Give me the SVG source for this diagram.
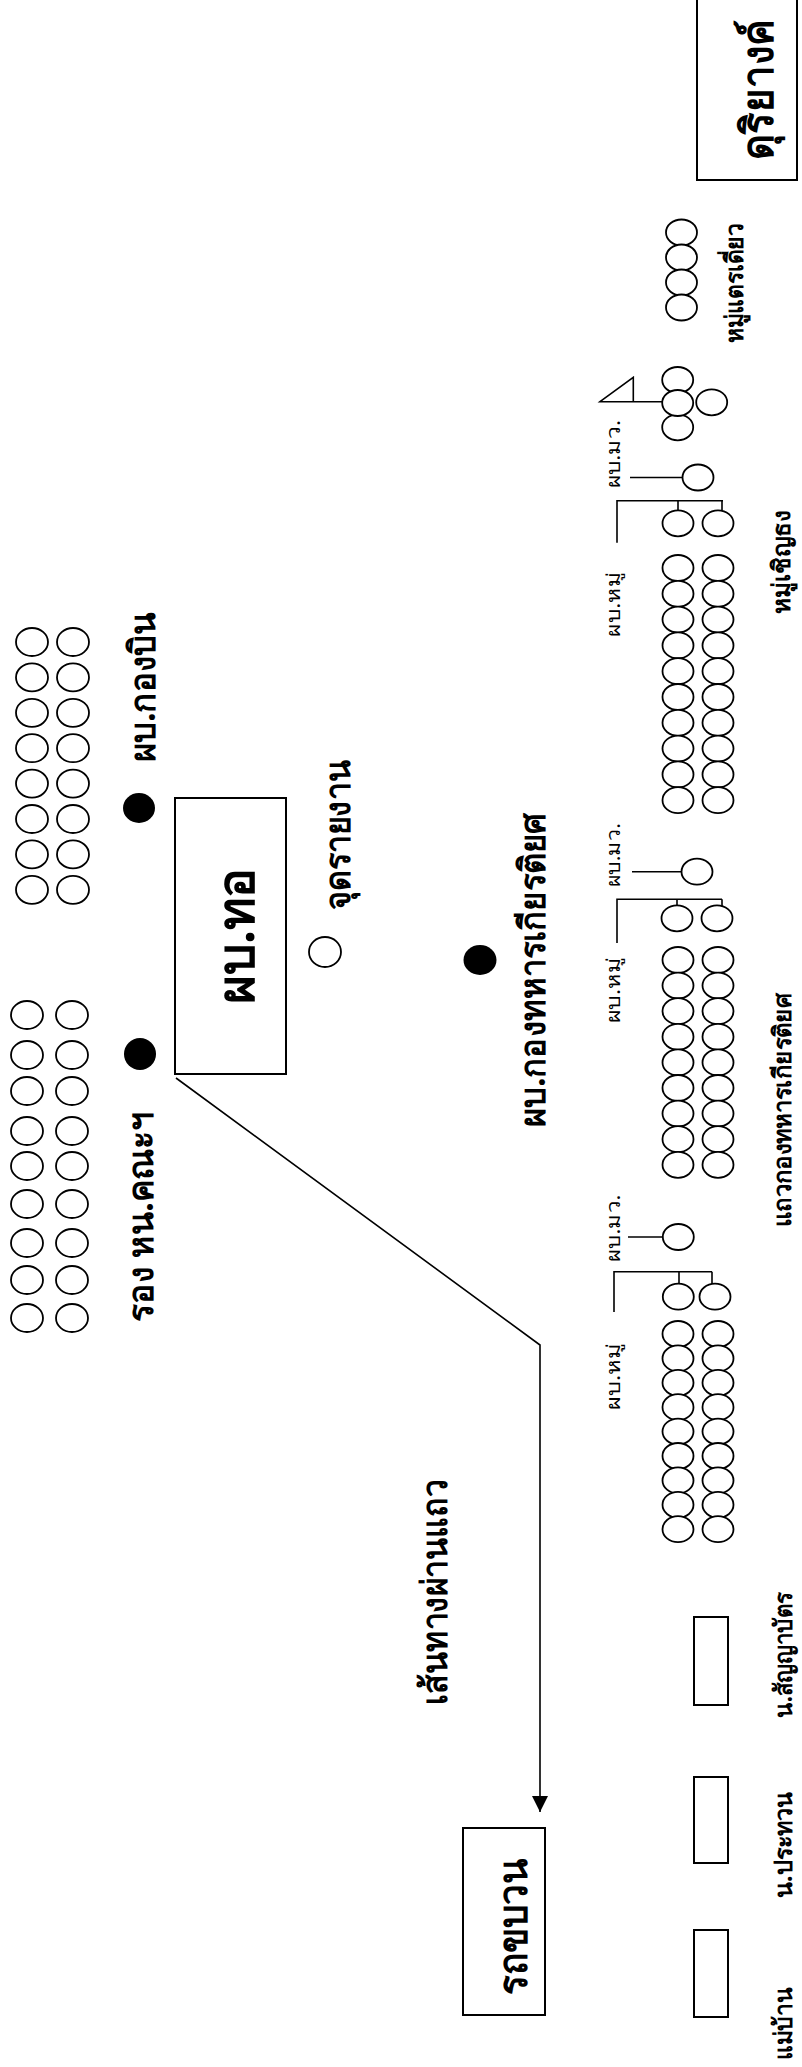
<svg xmlns="http://www.w3.org/2000/svg" xmlns:xlink="http://www.w3.org/1999/xlink" width="802" height="2067" viewBox="0 0 802 2067">
<style>
.o{fill:#fff;stroke:#000;stroke-width:1.8}
.f{fill:#000;stroke:none}
.ln{stroke:#000;stroke-width:1.6;fill:none}
.bx{fill:#fff;stroke:#000;stroke-width:2}
.t{font-family:"Noto Sans","DejaVu Sans",sans-serif;font-weight:bold;text-anchor:middle;fill:#000}
.s{font-weight:normal;font-size:19px}
</style>
<defs>
<ellipse id="c" cx="0" cy="0" rx="15.5" ry="13"/>
<ellipse id="L" cx="0" cy="0" rx="16" ry="14"/>
<marker id="ah" viewBox="0 0 16 16" refX="16" refY="8" markerWidth="16" markerHeight="16" markerUnits="userSpaceOnUse" orient="auto"><path d="M0,0 L16,8 L0,16 Z" fill="#000"/></marker>
</defs>
<rect width="802" height="2067" fill="#fff"/>

<g id="duriyang">
<rect class="bx" x="697" y="-2" width="100" height="182"/>
<text class="t" font-size="44" textLength="140" lengthAdjust="spacingAndGlyphs" transform="translate(773,90) rotate(-90)">ดุริยางค์</text>
</g>

<g id="trae">
<use href="#c" class="o" x="681.5" y="232.5"/>
<use href="#c" class="o" x="681.5" y="257.5"/>
<use href="#c" class="o" x="681.5" y="282.5"/>
<use href="#c" class="o" x="681.5" y="307.5"/>
<text class="t" font-size="25" textLength="120" lengthAdjust="spacingAndGlyphs" transform="translate(743,283) rotate(-90)">หมู่แตรเดี่ยว</text>
</g>

<g id="flag">
<path class="ln" d="M600,401.7 L633.3,377.3 L633.3,401.7 Z M633.3,401.7 L663,401.7"/>
<use href="#c" class="o" x="677.7" y="380"/>
<use href="#c" class="o" x="677.7" y="427.3"/>
<use href="#c" class="o" x="677.7" y="403"/>
<use href="#c" class="o" x="711.7" y="402.3"/>
<text class="t" font-size="25" textLength="103" lengthAdjust="spacingAndGlyphs" transform="translate(790,562) rotate(-90)">หมู่เชิญธง</text>
</g>

<g id="platoon1">
<text class="t s" textLength="68" lengthAdjust="spacingAndGlyphs" transform="translate(620,454) rotate(-90)">ผบ.มว.</text>
<path class="ln" d="M630,477.5 L683,477.5"/>
<use href="#c" class="o" x="698" y="477.5"/>
<path class="ln" d="M617,542.7 L617,500.7 L723,500.7 M678,500.7 L678,510.5 M722,500.7 L722,510.5"/>
<use href="#c" class="o" x="678" y="523.3"/>
<use href="#c" class="o" x="718" y="523.3"/>
<text class="t s" textLength="65" lengthAdjust="spacingAndGlyphs" transform="translate(620,604) rotate(-90)">ผบ.หมู่</text>
<use href="#c" class="o" x="678" y="568"/><use href="#c" class="o" x="718" y="568"/>
<use href="#c" class="o" x="678" y="593.8"/><use href="#c" class="o" x="718" y="593.8"/>
<use href="#c" class="o" x="678" y="619.6"/><use href="#c" class="o" x="718" y="619.6"/>
<use href="#c" class="o" x="678" y="645.4"/><use href="#c" class="o" x="718" y="645.4"/>
<use href="#c" class="o" x="678" y="671.2"/><use href="#c" class="o" x="718" y="671.2"/>
<use href="#c" class="o" x="678" y="697"/><use href="#c" class="o" x="718" y="697"/>
<use href="#c" class="o" x="678" y="722.8"/><use href="#c" class="o" x="718" y="722.8"/>
<use href="#c" class="o" x="678" y="748.6"/><use href="#c" class="o" x="718" y="748.6"/>
<use href="#c" class="o" x="678" y="774.4"/><use href="#c" class="o" x="718" y="774.4"/>
<use href="#c" class="o" x="678" y="800.2"/><use href="#c" class="o" x="718" y="800.2"/>
</g>

<g id="platoon2">
<text class="t s" textLength="64" lengthAdjust="spacingAndGlyphs" transform="translate(620,855) rotate(-90)">ผบ.มว.</text>
<path class="ln" d="M632,871.7 L682,871.7"/>
<use href="#c" class="o" x="697" y="871.7"/>
<path class="ln" d="M617,943 L617,899.3 L722,899.3 M677,899.3 L677,906 M722,899.3 L722,906"/>
<use href="#c" class="o" x="677" y="918.3"/>
<use href="#c" class="o" x="717" y="918.3"/>
<text class="t s" textLength="66" lengthAdjust="spacingAndGlyphs" transform="translate(620,990) rotate(-90)">ผบ.หมู่</text>
<use href="#c" class="o" x="678" y="960"/><use href="#c" class="o" x="718" y="960"/>
<use href="#c" class="o" x="678" y="985.6"/><use href="#c" class="o" x="718" y="985.6"/>
<use href="#c" class="o" x="678" y="1011.2"/><use href="#c" class="o" x="718" y="1011.2"/>
<use href="#c" class="o" x="678" y="1036.8"/><use href="#c" class="o" x="718" y="1036.8"/>
<use href="#c" class="o" x="678" y="1062.4"/><use href="#c" class="o" x="718" y="1062.4"/>
<use href="#c" class="o" x="678" y="1088"/><use href="#c" class="o" x="718" y="1088"/>
<use href="#c" class="o" x="678" y="1113.6"/><use href="#c" class="o" x="718" y="1113.6"/>
<use href="#c" class="o" x="678" y="1139.2"/><use href="#c" class="o" x="718" y="1139.2"/>
<use href="#c" class="o" x="678" y="1164.8"/><use href="#c" class="o" x="718" y="1164.8"/>
<text class="t" font-size="25" textLength="234" lengthAdjust="spacingAndGlyphs" transform="translate(791,1110) rotate(-90)">แถวกองทหารเกียรติยศ</text>
</g>

<g id="platoon3">
<text class="t s" textLength="67" lengthAdjust="spacingAndGlyphs" transform="translate(620,1228) rotate(-90)">ผบ.มว.</text>
<path class="ln" d="M628,1237 L663,1237"/>
<use href="#c" class="o" x="678.3" y="1237"/>
<path class="ln" d="M614,1312 L614,1271.7 L712,1271.7 M679,1271.7 L679,1284 M712,1271.7 L712,1284"/>
<use href="#c" class="o" x="678.3" y="1296.7"/>
<use href="#c" class="o" x="715" y="1296.7"/>
<text class="t s" textLength="67" lengthAdjust="spacingAndGlyphs" transform="translate(620,1376) rotate(-90)">ผบ.หมู่</text>
<use href="#c" class="o" x="678" y="1334"/><use href="#c" class="o" x="718" y="1334"/>
<use href="#c" class="o" x="678" y="1358.4"/><use href="#c" class="o" x="718" y="1358.4"/>
<use href="#c" class="o" x="678" y="1382.8"/><use href="#c" class="o" x="718" y="1382.8"/>
<use href="#c" class="o" x="678" y="1407.2"/><use href="#c" class="o" x="718" y="1407.2"/>
<use href="#c" class="o" x="678" y="1431.6"/><use href="#c" class="o" x="718" y="1431.6"/>
<use href="#c" class="o" x="678" y="1456"/><use href="#c" class="o" x="718" y="1456"/>
<use href="#c" class="o" x="678" y="1480.4"/><use href="#c" class="o" x="718" y="1480.4"/>
<use href="#c" class="o" x="678" y="1504.8"/><use href="#c" class="o" x="718" y="1504.8"/>
<use href="#c" class="o" x="678" y="1529.2"/><use href="#c" class="o" x="718" y="1529.2"/>
</g>

<g id="n-sanyabat">
<rect class="bx" x="694" y="1617" width="34" height="88"/>
<text class="t" font-size="25" textLength="125" lengthAdjust="spacingAndGlyphs" transform="translate(792,1655) rotate(-90)">น.สัญญาบัตร</text>
</g>
<g id="n-prathuan">
<rect class="bx" x="694" y="1777" width="34" height="86"/>
<text class="t" font-size="25" textLength="106" lengthAdjust="spacingAndGlyphs" transform="translate(792,1845) rotate(-90)">น.ประทวน</text>
</g>
<g id="maeban">
<rect class="bx" x="694" y="1930" width="34" height="87"/>
<text class="t" font-size="25" textLength="72" lengthAdjust="spacingAndGlyphs" transform="translate(792,2024) rotate(-90)">แม่บ้าน</text>
</g>

<g id="kongbin-group">
<use href="#L" class="o" x="32" y="642"/><use href="#L" class="o" x="73" y="642"/>
<use href="#L" class="o" x="32" y="677.4"/><use href="#L" class="o" x="73" y="677.4"/>
<use href="#L" class="o" x="32" y="712.8"/><use href="#L" class="o" x="73" y="712.8"/>
<use href="#L" class="o" x="32" y="748.2"/><use href="#L" class="o" x="73" y="748.2"/>
<use href="#L" class="o" x="32" y="783.6"/><use href="#L" class="o" x="73" y="783.6"/>
<use href="#L" class="o" x="32" y="819"/><use href="#L" class="o" x="73" y="819"/>
<use href="#L" class="o" x="32" y="854.4"/><use href="#L" class="o" x="73" y="854.4"/>
<use href="#L" class="o" x="32" y="889.8"/><use href="#L" class="o" x="73" y="889.8"/>
</g>
<g id="pb-kongbin">
<ellipse class="f" cx="139" cy="808" rx="16" ry="15"/>
<text class="t" font-size="36" textLength="150" lengthAdjust="spacingAndGlyphs" transform="translate(155,687) rotate(-90)">ผบ.กองบิน</text>
</g>

<g id="khana-group">
<use href="#L" class="o" x="27" y="1015"/><use href="#L" class="o" x="72" y="1015"/>
<use href="#L" class="o" x="27" y="1055"/><use href="#L" class="o" x="72" y="1055"/>
<use href="#L" class="o" x="27" y="1091"/><use href="#L" class="o" x="72" y="1091"/>
<use href="#L" class="o" x="27" y="1131"/><use href="#L" class="o" x="72" y="1131"/>
<use href="#L" class="o" x="27" y="1166"/><use href="#L" class="o" x="72" y="1166"/>
<use href="#L" class="o" x="27" y="1204"/><use href="#L" class="o" x="72" y="1204"/>
<use href="#L" class="o" x="27" y="1243"/><use href="#L" class="o" x="72" y="1243"/>
<use href="#L" class="o" x="27" y="1280"/><use href="#L" class="o" x="72" y="1280"/>
<use href="#L" class="o" x="27" y="1318"/><use href="#L" class="o" x="72" y="1318"/>
</g>
<g id="rong-hn">
<ellipse class="f" cx="140" cy="1054" rx="16" ry="16"/>
<text class="t" font-size="36" textLength="209" lengthAdjust="spacingAndGlyphs" transform="translate(153,1217) rotate(-90)">รอง หน.คณะฯ</text>
</g>

<g id="pb-to">
<rect class="bx" x="175" y="798" width="111" height="276"/>
<text class="t" font-size="52" textLength="136" lengthAdjust="spacingAndGlyphs" transform="translate(254,936) rotate(-90)">ผบ.ทอ</text>
</g>

<g id="jud-raingan">
<ellipse class="o" cx="325" cy="952" rx="16" ry="15"/>
<text class="t" font-size="36" textLength="150" lengthAdjust="spacingAndGlyphs" transform="translate(350,835) rotate(-90)">จุดรายงาน</text>
</g>

<g id="pb-guard">
<ellipse class="f" cx="480" cy="960" rx="16.5" ry="15"/>
<text class="t" font-size="36" textLength="314" lengthAdjust="spacingAndGlyphs" transform="translate(545,970) rotate(-90)">ผบ.กองทหารเกียรติยศ</text>
</g>

<g id="route-label">
<text class="t" font-size="36" textLength="225" lengthAdjust="spacingAndGlyphs" transform="translate(447,1592) rotate(-90)">เส้นทางผ่านแถว</text>
</g>

<g id="rot-khabuan">
<rect class="bx" x="463" y="1828" width="82" height="187"/>
<text class="t" font-size="40" textLength="135" lengthAdjust="spacingAndGlyphs" transform="translate(527,1927) rotate(-90)">รถขบวน</text>
</g>

<g id="connectors">
<path class="ln" d="M176,1078 L540,1345 L540,1812" marker-end="url(#ah)"/>
</g>
</svg>
